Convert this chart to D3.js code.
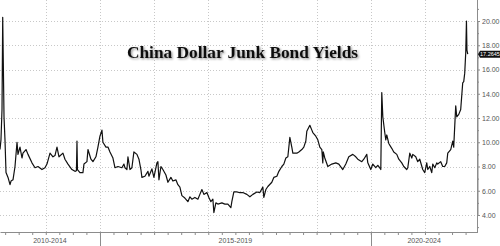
<!DOCTYPE html>
<html>
<head>
<meta charset="utf-8">
<script src="https://cdn.jsdelivr.net/npm/d3@7"></script>
<style>
    body { margin: 0; background: #fff; }
    svg { display: block; }
</style>
</head>
<body>
<svg width="500" height="246"></svg>
<script>
const chartTitle = "China Dollar Junk Bond Yields";

// dates as decimal years, yields in percent
const years = [
    2013.155, 2013.173, 2013.192, 2013.205, 2013.216, 2013.229, 2013.247, 2013.266, 2013.303, 2013.340,
    2013.358, 2013.395, 2013.432, 2013.469, 2013.487, 2013.524, 2013.561, 2013.579, 2013.635, 2013.672,
    2013.745, 2013.801, 2013.856, 2013.930, 2013.985, 2014.022, 2014.078, 2014.133, 2014.170, 2014.207,
    2014.244, 2014.317, 2014.354, 2014.410, 2014.483, 2014.539, 2014.566, 2014.576, 2014.585, 2014.631,
    2014.686, 2014.705, 2014.760, 2014.779, 2014.834, 2014.871, 2014.926, 2014.963, 2015.000, 2015.037,
    2015.055, 2015.111, 2015.148, 2015.185, 2015.240, 2015.277, 2015.332, 2015.406, 2015.443, 2015.461,
    2015.498, 2015.517, 2015.554, 2015.590, 2015.627, 2015.683, 2015.720, 2015.756, 2015.775, 2015.830,
    2015.886, 2015.904, 2015.959, 2015.996, 2016.052, 2016.070, 2016.089, 2016.126, 2016.162, 2016.218,
    2016.255, 2016.310, 2016.347, 2016.402, 2016.439, 2016.476, 2016.513, 2016.568, 2016.624, 2016.661,
    2016.697, 2016.753, 2016.808, 2016.845, 2016.882, 2016.919, 2016.974, 2017.011, 2017.048, 2017.085,
    2017.103, 2017.140, 2017.177, 2017.251, 2017.306, 2017.362, 2017.417, 2017.435, 2017.472, 2017.528,
    2017.583, 2017.638, 2017.712, 2017.768, 2017.823, 2017.897, 2017.952, 2018.007, 2018.026, 2018.063,
    2018.100, 2018.173, 2018.210, 2018.266, 2018.303, 2018.358, 2018.395, 2018.432, 2018.469, 2018.506,
    2018.542, 2018.561, 2018.635, 2018.672, 2018.727, 2018.764, 2018.801, 2018.819, 2018.875, 2018.912,
    2018.930, 2018.985, 2019.022, 2019.059, 2019.096, 2019.114, 2019.123, 2019.151, 2019.207, 2019.280,
    2019.354, 2019.410, 2019.483, 2019.539, 2019.594, 2019.668, 2019.723, 2019.760, 2019.834, 2019.871,
    2019.926, 2019.945, 2020.000, 2020.037, 2020.092, 2020.129, 2020.148, 2020.185, 2020.203, 2020.222,
    2020.258, 2020.277, 2020.295, 2020.332, 2020.387, 2020.424, 2020.480, 2020.517, 2020.572, 2020.609,
    2020.664, 2020.683, 2020.720, 2020.757, 2020.775, 2020.830, 2020.867, 2020.904, 2020.959, 2020.996,
    2021.033, 2021.052, 2021.089, 2021.125, 2021.144, 2021.181, 2021.218, 2021.236, 2021.291, 2021.328,
    2021.365, 2021.402, 2021.421, 2021.476, 2021.513, 2021.531, 2021.568, 2021.587, 2021.624, 2021.660,
    2021.697, 2021.716, 2021.734, 2021.753, 2021.766, 2021.775, 2021.790
];
const yields = [
    9.4, 10.2, 12.7, 20.3, 16.6, 12.1, 10.2, 7.5, 7.1, 6.5,
    6.8, 6.9, 8.0, 10.0, 9.0, 9.6, 8.7, 9.1, 9.4, 9.0,
    8.3, 7.9, 8.0, 7.75, 7.9, 8.2, 9.1, 8.8, 8.9, 9.6,
    8.8, 9.1, 8.6, 8.2, 7.75, 7.6, 7.65, 10.1, 7.75, 7.5,
    7.5, 8.2, 8.4, 9.4, 8.6, 8.4, 8.8, 9.6, 10.5, 11.0,
    10.0, 9.6, 9.6, 9.2, 8.7, 7.9, 8.0, 7.9, 8.2, 7.9,
    7.75, 8.8, 7.75, 7.9, 9.2, 9.0, 8.6, 7.75, 7.1, 7.2,
    7.6, 7.2, 7.8, 7.1, 8.3, 8.4, 6.9, 8.0, 7.75, 7.3,
    6.7, 7.1, 6.8, 6.9, 6.5, 6.3, 5.6, 5.4, 5.1, 5.5,
    5.3, 5.45, 5.3, 5.7, 6.1, 5.7, 5.85, 5.45, 5.1, 5.3,
    4.2, 5.0, 4.9, 5.0, 4.9, 4.9, 4.6, 5.1, 5.9, 5.9,
    5.85, 5.85, 5.7, 5.5, 5.7, 5.9, 5.85, 6.3, 5.45, 6.1,
    6.35, 6.7, 7.1, 7.2, 7.6, 8.0, 8.2, 8.7, 8.8, 10.4,
    9.6, 9.1, 9.1, 9.2, 9.4, 9.6, 10.1, 10.9, 11.4, 11.0,
    10.8, 10.5, 10.2, 9.6, 9.4, 8.3, 9.2, 8.7, 8.0, 8.2,
    8.3, 8.2, 7.75, 8.2, 8.8, 9.0, 8.8, 8.6, 8.4, 8.6,
    9.0, 8.3, 7.75, 8.2, 7.9, 8.1, 8.0, 7.75, 14.1, 12.1,
    10.8, 10.2, 10.6, 9.9, 9.5, 9.2, 9.0, 8.6, 8.3, 8.0,
    7.75, 7.9, 9.1, 8.7, 9.0, 8.8, 8.4, 8.6, 7.75, 7.5,
    8.3, 7.75, 8.0, 7.5, 8.2, 7.9, 8.3, 8.2, 8.4, 8.0,
    8.0, 8.3, 9.1, 9.4, 10.1, 9.6, 13.0, 12.1, 12.3, 12.7,
    14.9, 15.0, 15.7, 17.4, 20.0, 17.6, 17.2645
];

const yTicks = [4, 6, 8, 10, 12, 14, 16, 18, 20];
const yMinorTicks = [3, 5, 7, 9, 11, 13, 15, 17, 19, 21];
const periodLabels = ["2010-2014", "2015-2019", "2020-2024"];
const periodStarts = [2010, 2015, 2020];
const periodEnds = [2015, 2020, 2025];
const yearGrid = [2014, 2015, 2016, 2017, 2018, 2019, 2020, 2021];
const xStart = 2013.155;
const xEnd = 2021.97;

function draw() {
    const svg = d3.select("svg");
    const plotRight = 477.5;
    const plotBottom = 232;
    const grey = "#8c8c8c";

    const x = d3.scaleLinear().domain([xStart, xEnd]).range([0, plotRight]);
    const y = d3.scaleLinear().domain([4, 20]).range([215, 21]);

    const defs = svg.append("defs");
    const shadow = defs.append("filter").attr("id", "shadow")
        .attr("x", "-5%").attr("y", "-20%").attr("width", "110%").attr("height", "150%");
    shadow.append("feDropShadow")
        .attr("dx", 1.2).attr("dy", 1.2).attr("stdDeviation", 0.9)
        .attr("flood-color", "#000").attr("flood-opacity", 0.45);

    // grid
    const grid = svg.append("g").attr("stroke", "#c8c8c8").attr("stroke-width", 1)
        .attr("stroke-dasharray", "1,2");
    grid.selectAll(".hgrid").data(yTicks).join("line")
        .attr("x1", 0).attr("x2", plotRight)
        .attr("y1", d => Math.round(y(d)) + 0.5).attr("y2", d => Math.round(y(d)) + 0.5);
    grid.selectAll(".vgrid").data(yearGrid).join("line")
        .attr("x1", d => Math.round(x(d)) + 0.5).attr("x2", d => Math.round(x(d)) + 0.5)
        .attr("y1", 0).attr("y2", plotBottom);

    // series
    const points = years.map((d, i) => ({date: d, value: yields[i]}));
    const line = d3.line()
        .x(d => x(d.date))
        .y(d => y(d.value));
    svg.append("path")
        .attr("d", line(points))
        .attr("fill", "none")
        .attr("stroke", "#111")
        .attr("stroke-width", 1.2)
        .attr("stroke-linejoin", "round");

    // bottom axis with quarterly ticks
    const quarters = d3.range(2013.25, xEnd, 0.25);
    const xAxis = svg.append("g")
        .attr("transform", "translate(0," + plotBottom + ")")
        .call(d3.axisBottom(x).tickValues(quarters).tickSize(3).tickSizeOuter(0).tickFormat(""));
    xAxis.selectAll("path, line").attr("stroke", grey);

    const visStart = periodStarts.map(d => Math.max(d, xStart));
    const visEnd = periodEnds.map(d => Math.min(d, xEnd));
    svg.selectAll(".sep").data(periodStarts.filter(d => d > xStart)).join("line")
        .attr("x1", d => Math.round(x(d)) + 0.5).attr("x2", d => Math.round(x(d)) + 0.5)
        .attr("y1", plotBottom).attr("y2", 246)
        .attr("stroke", grey);
    svg.selectAll(".period").data(periodLabels).join("text")
        .attr("x", (d, i) => (x(visStart[i]) + x(visEnd[i])) / 2)
        .attr("y", 243)
        .attr("text-anchor", "middle")
        .attr("font-family", "Liberation Sans, Arial, sans-serif")
        .attr("font-size", 7)
        .attr("fill", "#555")
        .text(d => d);

    // right axis
    const yAxis = svg.append("g")
        .attr("transform", "translate(" + plotRight + ",0)")
        .call(d3.axisRight(y).tickValues(yTicks).tickSize(2.5).tickPadding(2)
            .tickFormat(d3.format(".2f")));
    yAxis.select(".domain").remove();
    yAxis.selectAll("line").attr("stroke", grey);
    yAxis.selectAll("text")
        .attr("font-family", "Liberation Sans, Arial, sans-serif")
        .attr("font-size", 7)
        .attr("fill", "#555");
    svg.append("g")
        .attr("transform", "translate(" + plotRight + ",0)")
        .call(d3.axisRight(y).tickValues(yMinorTicks).tickSize(1.5).tickFormat(""))
        .selectAll("path, line").attr("stroke", grey);
    svg.append("line")
        .attr("x1", plotRight).attr("x2", plotRight)
        .attr("y1", 0).attr("y2", plotBottom)
        .attr("stroke", grey);

    // last value tag
    const last = yields[yields.length - 1];
    const ly = y(last);
    svg.append("path")
        .attr("d", "M" + (plotRight + 0.5) + "," + ly + "L" + (plotRight + 2.5) + "," + (ly - 3.5)
            + "H500V" + (ly + 3.5) + "H" + (plotRight + 2.5) + "Z")
        .attr("fill", "#111");
    svg.append("text")
        .attr("x", plotRight + 2.5)
        .attr("y", ly + 2)
        .attr("font-family", "Liberation Sans, Arial, sans-serif")
        .attr("font-size", 5.5)
        .attr("fill", "#fff")
        .text(d3.format(".4f")(last));

    // title
    svg.append("text")
        .attr("x", 127)
        .attr("y", 58)
        .attr("textLength", 231)
        .attr("lengthAdjust", "spacingAndGlyphs")
        .attr("font-family", "Liberation Serif, Times New Roman, serif")
        .attr("font-weight", "bold")
        .attr("font-size", 16)
        .attr("fill", "#111")
        .attr("filter", "url(#shadow)")
        .text(chartTitle);
}

draw();
</script>
</body>
</html>
